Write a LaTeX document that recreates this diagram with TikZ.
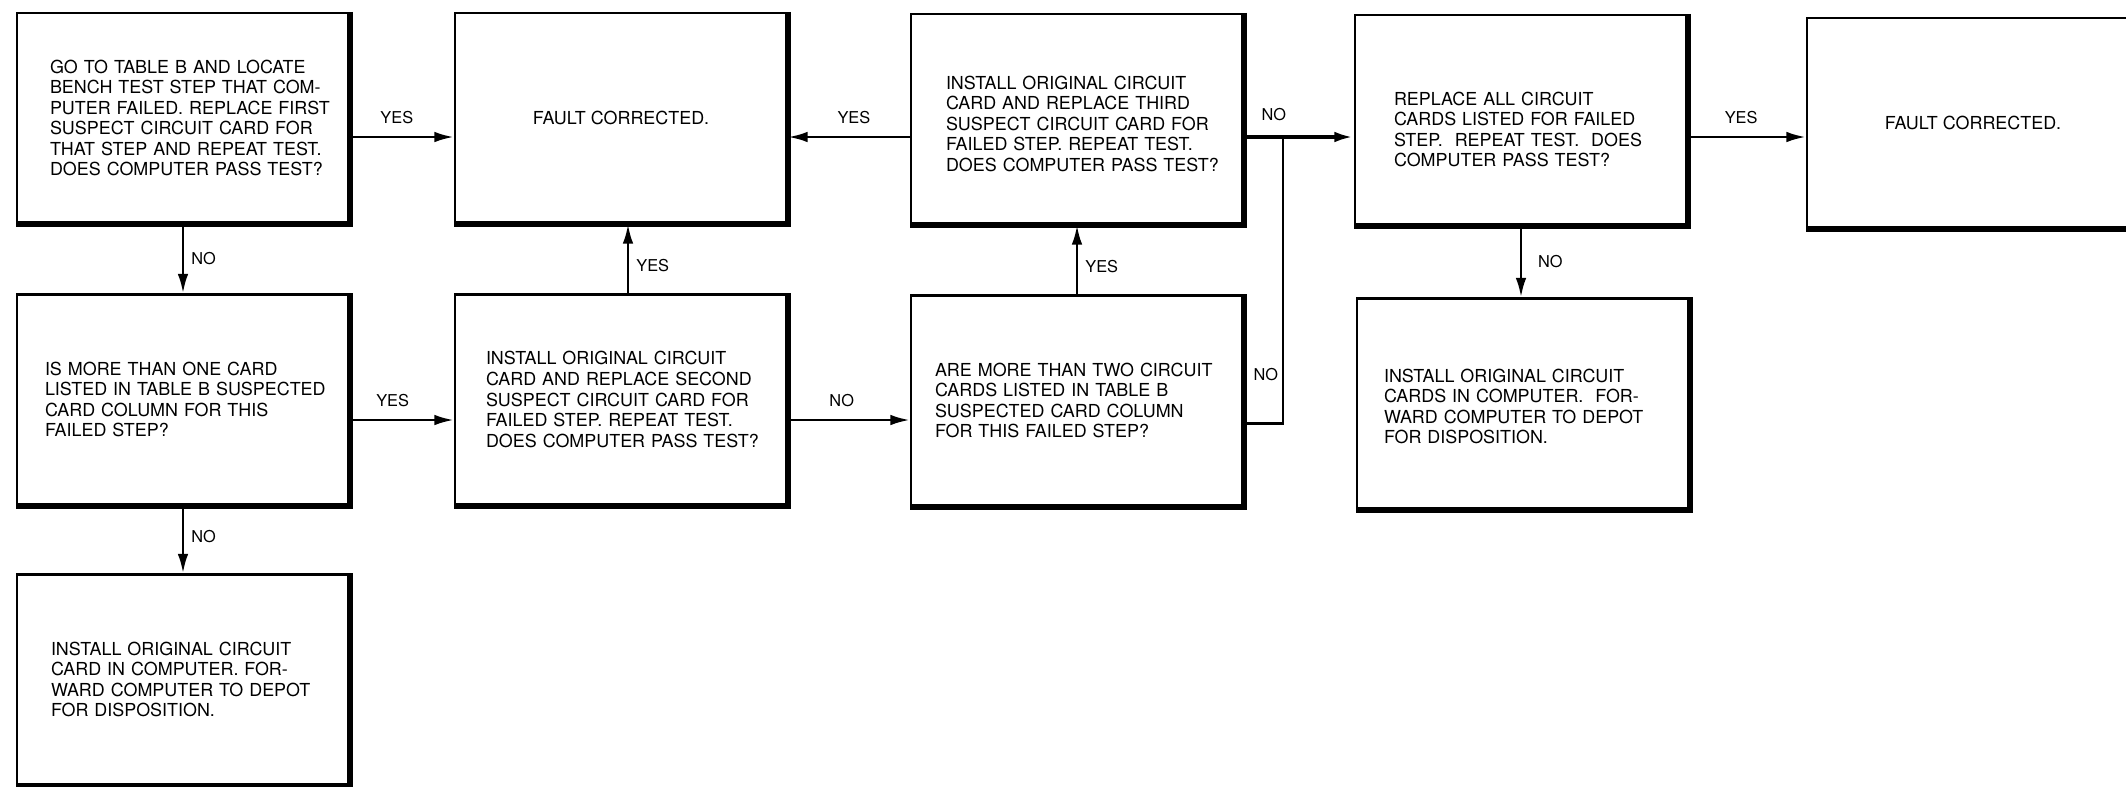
\documentclass[tikz,border=0pt]{standalone}
\usepackage{fontspec}
\setmainfont{TeX Gyre Heros}
\usepackage{tikz}
\usetikzlibrary{arrows.meta}

\begin{document}
\begin{tikzpicture}[
    >={Latex[length=11pt,width=6pt]},
    box/.style={draw, line width=1.4pt, minimum width=6.64cm, minimum height=4.2cm,
        font=\fontsize{10.2}{11.7}\selectfont},
    card/.style={box, text width=6.1cm, inner xsep=0.27cm, align=left,
        execute at begin node={\leftskip=#1}},
    card/.default=0.35cm,
    endbox/.style={box, align=center},
    heavy/.style={line width=3.4pt},
    flow/.style={->, line width=1.5pt},
    lbl/.style={inner sep=1pt, font=\fontsize{9.3}{10}\selectfont}
]
\clip (0,0) rectangle (42.52,-15.72);

\node[card=0.39cm] (locate) at (3.66,-2.36) {GO TO TABLE B AND LOCATE\\BENCH TEST STEP THAT COM-\\PUTER FAILED. REPLACE FIRST\\SUSPECT CIRCUIT CARD FOR\\THAT STEP AND REPEAT TEST.\\DOES COMPUTER PASS TEST?};
\node[endbox] (fixedA) at (12.42,-2.36) {FAULT CORRECTED.};
\node[card=0.43cm] (third) at (21.54,-2.38) {\rule{0pt}{0.46cm}INSTALL ORIGINAL CIRCUIT\\CARD AND REPLACE THIRD\\SUSPECT CIRCUIT CARD FOR\\FAILED STEP. REPEAT TEST.\\DOES COMPUTER PASS TEST?};
\node[card=0.51cm] (replall) at (30.42,-2.40) {\rule{0pt}{0.64cm}REPLACE ALL CIRCUIT\\CARDS LISTED FOR FAILED\\STEP.\ \ REPEAT TEST.\ \ DOES\\COMPUTER PASS TEST?};
\node[endbox] (fixedB) at (39.46,-2.46) {FAULT CORRECTED.};

\node[card=0.29cm] (onecard) at (3.66,-7.99) {IS MORE THAN ONE CARD\\LISTED IN TABLE B SUSPECTED\\CARD COLUMN FOR THIS\\FAILED STEP?};
\node[card=0.35cm] (second) at (12.42,-7.99) {INSTALL ORIGINAL CIRCUIT\\CARD AND REPLACE SECOND\\SUSPECT CIRCUIT CARD FOR\\FAILED STEP. REPEAT TEST.\\DOES COMPUTER PASS TEST?};
\node[card=0.21cm] (twocards) at (21.54,-8.01) {ARE MORE THAN TWO CIRCUIT\\CARDS LISTED IN TABLE B\\SUSPECTED CARD COLUMN\\FOR THIS FAILED STEP?};
\node[card=0.27cm] (depotB) at (30.46,-8.07) {\rule{0pt}{0.38cm}INSTALL ORIGINAL CIRCUIT\\CARDS IN COMPUTER.\ \ FOR-\\WARD COMPUTER TO DEPOT\\FOR DISPOSITION.};

\node[card=0.41cm] (depotA) at (3.66,-13.59) {INSTALL ORIGINAL CIRCUIT\\CARD IN COMPUTER. FOR-\\WARD COMPUTER TO DEPOT\\FOR DISPOSITION.};

\foreach \b in {locate,fixedA,third,replall,fixedB,onecard,second,twocards,depotB,depotA}
    \draw[heavy] (\b.north east) -- (\b.south east) -- (\b.south west);

\coordinate (r1) at (0,-2.74);
\coordinate (r2) at (0,-8.40);
\coordinate (r3) at (0,-8.47);
\coordinate (jn) at (25.66,-2.74);

\draw[flow] (locate.east |- r1) -- node[lbl, above=5.5pt, pos=0.45] {YES} (fixedA.west |- r1);
\draw[flow] (third.west |- r1) -- node[lbl, above=5.5pt, pos=0.46] {YES} (fixedA.east |- r1);
\draw[flow, line width=2.6pt] (third.east |- r1) -- node[lbl, above=7pt, pos=0.27] {NO} (replall.west |- r1);
\draw[flow] (replall.east |- r1) -- node[lbl, above=5.5pt, pos=0.45] {YES} (fixedB.west |- r1);

\draw[flow] (onecard.east |- r2) -- node[lbl, above=5.5pt, pos=0.41] {YES} (second.west |- r2);
\draw[flow] (second.east |- r2) -- node[lbl, above=5.5pt, pos=0.44] {NO} (twocards.west |- r2);
\draw[line width=1.5pt] (twocards.east |- r3) -| node[lbl, left=1pt, pos=0.585] {NO} (jn);

\draw[flow] (locate.south) -- node[lbl, right=3pt] {NO} (onecard.north);
\draw[flow] (onecard.south) -- node[lbl, right=3pt, pos=0.46] {NO} (depotA.north);
\draw[flow] ([xshift=0.14cm]second.north) -- node[lbl, right=3pt, pos=0.4] {YES} ([xshift=0.14cm]fixedA.south);
\draw[flow] (twocards.north) -- node[lbl, right=3pt, pos=0.4] {YES} (third.south);
\draw[flow] (replall.south) -- node[lbl, right=8pt] {NO} (replall.south |- depotB.north);
\end{tikzpicture}
\end{document}
